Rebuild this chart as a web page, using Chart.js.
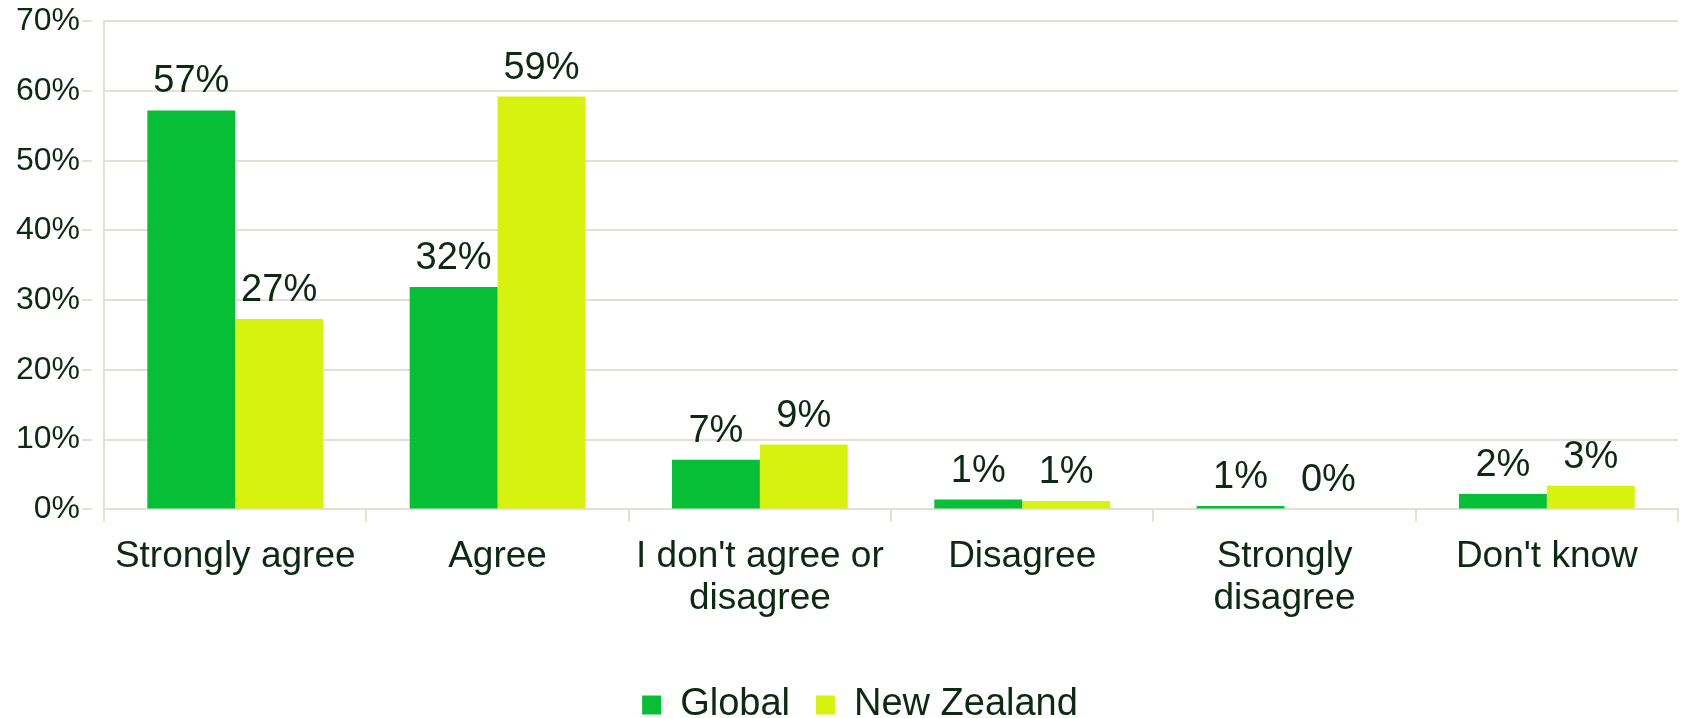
<!DOCTYPE html>
<html lang="en">
<head>
  <meta charset="UTF-8">
  <title>Global vs New Zealand</title>
  <script src="https://cdn.jsdelivr.net/npm/chart.js@4.4.1/dist/chart.umd.min.js"></script>
</head>
<style>
* {
  margin: 0;
  padding: 0;
}

body {
  background-color: #fff;
  width: 1681px;
  height: 718px;
  overflow: hidden;
}

#chart {
  display: block;
}
</style>
<body>
<canvas id="chart" width="1681" height="718"></canvas>
<script>
const categories = [
  "Strongly agree",
  "Agree",
  ["I don't agree or", "disagree"],
  "Disagree",
  ["Strongly", "disagree"],
  "Don't know"
];
const globalValues = [57.2, 31.9, 7.1, 1.4, 0.5, 2.2];
const nzValues = [27.3, 59.2, 9.3, 1.2, 0, 3.4];
const seriesNames = ["Global", "New Zealand"];
const yTicks = [0, 10, 20, 30, 40, 50, 60, 70];

const textColor = "#0c2a12";
const gridColor = "#e4e0d4";
const fontFamily = "'Liberation Sans', Arial, sans-serif";

// value labels above each bar
const barLabels = {
  id: "barLabels",
  afterDatasetsDraw(chart) {
    const ctx = chart.ctx;
    ctx.save();
    ctx.font = "38px " + fontFamily;
    ctx.fillStyle = textColor;
    ctx.textAlign = "center";
    ctx.textBaseline = "alphabetic";
    chart.data.datasets.forEach((ds, i) => {
      chart.getDatasetMeta(i).data.forEach((bar, j) => {
        ctx.fillText(Math.round(ds.data[j]) + "%", bar.x, bar.y - 18);
      });
    });
    ctx.restore();
  }
};

// legend sits a little right of centre in the original
const nudgeLegend = {
  id: "nudgeLegend",
  afterLayout(chart) {
    chart.legend.left += 14;
    chart.legend.right += 14;
  }
};

new Chart(document.getElementById("chart"), {
  type: "bar",
  plugins: [barLabels, nudgeLegend],
  data: {
    labels: categories,
    datasets: [
      {
        label: seriesNames[0],
        data: globalValues,
        backgroundColor: "#06bf36"
      },
      {
        label: seriesNames[1],
        data: nzValues,
        backgroundColor: "#d7f20f"
      }
    ]
  },
  options: {
    responsive: false,
    devicePixelRatio: 1,
    animation: false,
    layout: { padding: { top: 0, right: 3, left: 14, bottom: -16 } },
    datasets: {
      bar: { categoryPercentage: 0.67, barPercentage: 1 }
    },
    scales: {
      x: {
        grid: {
          offset: true,
          drawOnChartArea: false,
          drawTicks: true,
          tickLength: 12,
          color: gridColor,
          lineWidth: 2
        },
        border: { color: gridColor, width: 2 },
        ticks: {
          color: textColor,
          font: { family: fontFamily, size: 37, lineHeight: 1.13 },
          padding: 15,
          maxRotation: 0,
          autoSkip: false
        },
        afterFit: (axis) => {
          axis.height += 25;
        }
      },
      y: {
        min: 0,
        max: 70,
        afterBuildTicks: (axis) => {
          axis.ticks = yTicks.map((v) => ({ value: v }));
        },
        grid: {
          color: gridColor,
          lineWidth: 2,
          // long tick so the labels sit clear of the axis, dashed so only 10px shows
          tickLength: 22,
          tickBorderDash: [10, 60]
        },
        border: { color: gridColor, width: 2 },
        ticks: {
          color: textColor,
          font: { family: fontFamily, size: 32 },
          padding: 2,
          callback: (v) => v + "%"
        }
      }
    },
    plugins: {
      tooltip: { enabled: false },
      legend: {
        position: "bottom",
        labels: {
          color: textColor,
          font: { family: fontFamily, size: 38 },
          boxWidth: 19,
          boxHeight: 19,
          padding: 26
        }
      }
    }
  }
});
</script>
</body>
</html>
